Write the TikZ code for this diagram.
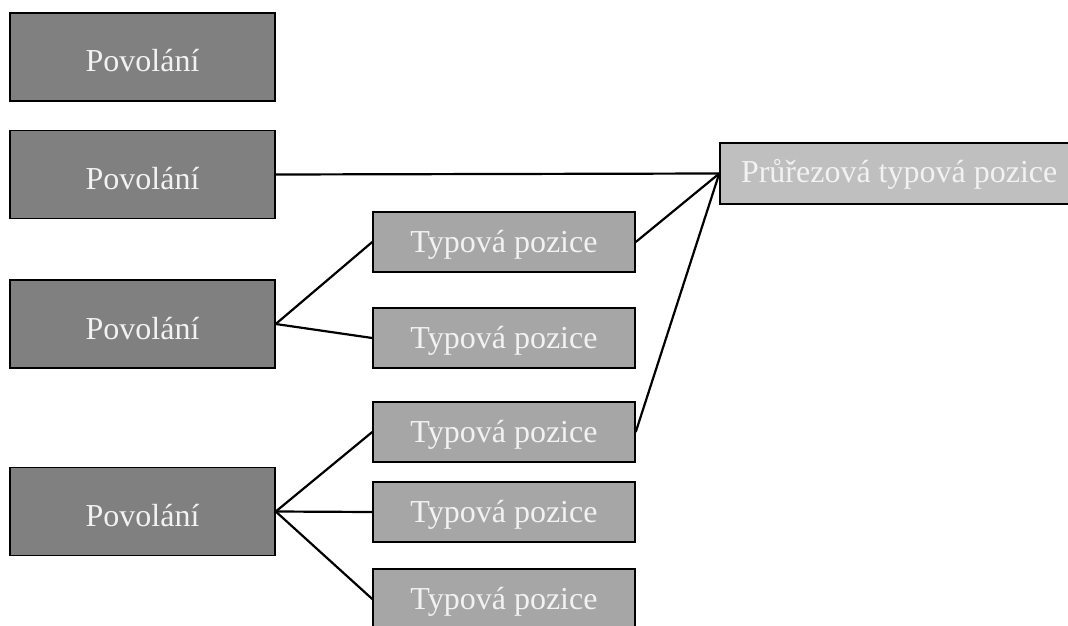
\documentclass[tikz,border=0pt]{standalone}
\usepackage{fontspec}
\setmainfont{Liberation Serif}
\definecolor{povfill}{HTML}{808080}
\definecolor{typfill}{HTML}{A6A6A6}
\definecolor{prufill}{HTML}{BFBFBF}
\definecolor{boxtext}{HTML}{F2F2F2}
\tikzset{
  basebox/.style={draw=black, line width=1.5pt, inner sep=0pt, text=boxtext,
    font=\fontsize{32}{36}\selectfont, text depth=0pt},
  povbox/.style={basebox, fill=povfill, minimum width=265pt, minimum height=88pt, text height=30pt},
  typbox/.style={basebox, fill=typfill, minimum width=262pt, minimum height=60pt, text height=21pt},
  prubox/.style={basebox, fill=prufill, minimum width=350pt, minimum height=61pt, text height=17pt},
  link/.style={draw=black, line width=2.2pt}
}
\begin{document}
\begin{tikzpicture}[x=1pt,y=-1pt]
\useasboundingbox (0,0) rectangle (1068,626);
\node[povbox] (p1) at (142.5,57) {Povolání};
\node[povbox] (p2) at (142.5,174.5) {Povolání};
\node[povbox] (p3) at (142.5,324) {Povolání};
\node[povbox] (p4) at (142.5,511.5) {Povolání};
\node[typbox] (ta) at (504,242) {Typová pozice};
\node[typbox] (tb) at (504,338) {Typová pozice};
\node[typbox] (tc) at (504,432) {Typová pozice};
\node[typbox] (td) at (504,512) {Typová pozice};
\node[typbox] (te) at (504,599) {Typová pozice};
\node[prubox] (pr) at (895,173.5) {\makebox[350pt][l]{\hspace*{21pt}Průřezová typová pozice}};
\draw[link] (p2.east) -- (pr.west);
\draw[link] (p3.east) -- (ta.west);
\draw[link] (p3.east) -- (tb.west);
\draw[link] (ta.east) -- (pr.west);
\draw[link] (tc.east) -- (pr.west);
\draw[link] (p4.east) -- (tc.west);
\draw[link] (p4.east) -- (td.west);
\draw[link] (p4.east) -- (te.west);
\end{tikzpicture}
\end{document}
